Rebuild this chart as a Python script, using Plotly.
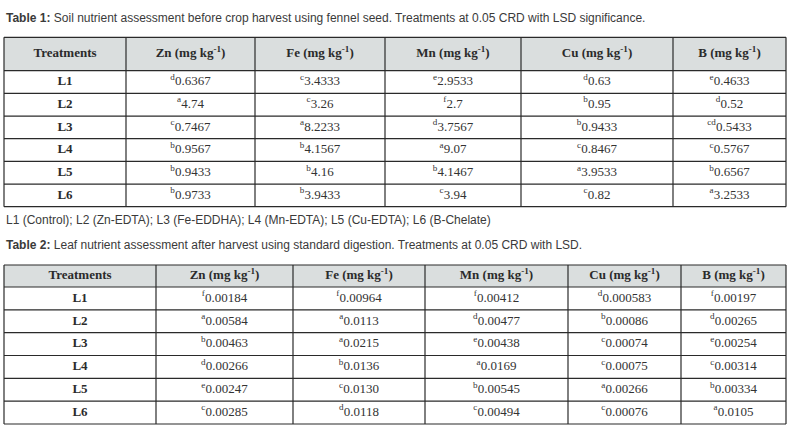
import plotly.graph_objects as go

W, H = 805, 428

treatments = ["L1", "L2", "L3", "L4", "L5", "L6"]
nutrients = ["Zn", "Fe", "Mn", "Cu", "B"]

# Table 1: soil nutrients (significance letter, value)
soil_zn = [("d", "0.6367"), ("a", "4.74"), ("c", "0.7467"), ("b", "0.9567"), ("b", "0.9433"), ("b", "0.9733")]
soil_fe = [("c", "3.4333"), ("c", "3.26"), ("a", "8.2233"), ("b", "4.1567"), ("b", "4.16"), ("b", "3.9433")]
soil_mn = [("e", "2.9533"), ("f", "2.7"), ("d", "3.7567"), ("a", "9.07"), ("b", "4.1467"), ("c", "3.94")]
soil_cu = [("d", "0.63"), ("b", "0.95"), ("b", "0.9433"), ("c", "0.8467"), ("a", "3.9533"), ("c", "0.82")]
soil_b = [("e", "0.4633"), ("d", "0.52"), ("cd", "0.5433"), ("c", "0.5767"), ("b", "0.6567"), ("a", "3.2533")]

# Table 2: leaf nutrients (significance letter, value)
leaf_zn = [("f", "0.00184"), ("a", "0.00584"), ("b", "0.00463"), ("d", "0.00266"), ("e", "0.00247"), ("c", "0.00285")]
leaf_fe = [("f", "0.00964"), ("a", "0.0113"), ("a", "0.0215"), ("b", "0.0136"), ("c", "0.0130"), ("d", "0.0118")]
leaf_mn = [("f", "0.00412"), ("d", "0.00477"), ("e", "0.00438"), ("a", "0.0169"), ("b", "0.00545"), ("c", "0.00494")]
leaf_cu = [("d", "0.000583"), ("b", "0.00086"), ("c", "0.00074"), ("c", "0.00075"), ("a", "0.00266"), ("c", "0.00076")]
leaf_b = [("f", "0.00197"), ("d", "0.00265"), ("e", "0.00254"), ("c", "0.00314"), ("b", "0.00334"), ("a", "0.0105")]

title1 = "Soil nutrient assessment before crop harvest using fennel seed. Treatments at 0.05 CRD with LSD significance."
title2 = "Leaf nutrient assessment after harvest using standard digestion. Treatments at 0.05 CRD with LSD."
footnote = "L1 (Control); L2 (Zn-EDTA); L3 (Fe-EDDHA); L4 (Mn-EDTA); L5 (Cu-EDTA); L6 (B-Chelate)"

header = ["Treatments"] + [f"{n} (mg kg<sup>-1</sup>)" for n in nutrients]

# ---- layout (pixel geometry on a page-sized axis) ----
TABLE1 = dict(cols=[4, 126, 255, 385, 521, 673, 786], top=37.3, head=33.4, row=22.67)
TABLE2 = dict(cols=[4, 156, 293, 425, 568, 681, 786], top=265, head=22, row=22.83)
SERIF = "Liberation Serif, DejaVu Serif, serif"
LINE_COLOR = "#2a2a2a"
HEAD_FILL = "#dadede"

fig = go.Figure()
shapes = []


def add_table(cols, geo):
    xs = geo["cols"]
    top, head, row = geo["top"], geo["head"], geo["row"]
    n = len(treatments)
    row_edges = [top, top + head] + [top + head + row * (i + 1) for i in range(n)]
    bottom = row_edges[-1]
    centers_x = [(xs[i] + xs[i + 1]) / 2 for i in range(len(xs) - 1)]
    head_y = top + head / 2
    rows_y = [top + head + row * (i + 0.5) for i in range(n)]

    shapes.append(dict(type="rect", xref="x", yref="y", x0=xs[0], x1=xs[-1], y0=top, y1=top + head,
                       fillcolor=HEAD_FILL, line=dict(width=0), layer="below"))
    for y in row_edges:
        shapes.append(dict(type="line", xref="x", yref="y", x0=xs[0], x1=xs[-1], y0=y, y1=y,
                           line=dict(color=LINE_COLOR, width=1.2)))
    for x in xs:
        shapes.append(dict(type="line", xref="x", yref="y", x0=x, x1=x, y0=top, y1=bottom,
                           line=dict(color=LINE_COLOR, width=1.2)))

    # header texts
    fig.add_trace(go.Scatter(x=centers_x, y=[head_y] * len(header), mode="text",
                             text=[f"<b>{h}</b>" for h in header], textposition="middle center",
                             textfont=dict(family=SERIF, size=13, color="#2b2b2b"),
                             hoverinfo="skip", showlegend=False))
    # treatment labels
    fig.add_trace(go.Scatter(x=[centers_x[0]] * n, y=rows_y, mode="text",
                             text=[f"<b>{t}</b>" for t in treatments], textposition="middle center",
                             textfont=dict(family=SERIF, size=13, color="#2b2b2b"),
                             hoverinfo="skip", showlegend=False))
    # values with significance letters
    for j, col in enumerate(cols):
        fig.add_trace(go.Scatter(x=[centers_x[j + 1]] * n, y=rows_y, mode="text",
                                 text=[f"<sup>{l}</sup>{v}" for l, v in col],
                                 textposition="middle center",
                                 textfont=dict(family=SERIF, size=13, color="#333333"),
                                 hoverinfo="skip", showlegend=False))


add_table([soil_zn, soil_fe, soil_mn, soil_cu, soil_b], TABLE1)
add_table([leaf_zn, leaf_fe, leaf_mn, leaf_cu, leaf_b], TABLE2)

TXT = dict(family="Liberation Sans", size=12, color="#3a3a3a")
annotations = []
for y, txt in [(18, f"<b>Table 1:</b> {title1}"), (220, footnote), (245, f"<b>Table 2:</b> {title2}")]:
    annotations.append(dict(x=4, y=y, xref="x", yref="y", text=txt, showarrow=False,
                            xanchor="left", yanchor="middle", font=TXT))

fig.update_layout(width=W, height=H, margin=dict(l=0, r=0, t=0, b=0),
                  paper_bgcolor="white", plot_bgcolor="white",
                  shapes=shapes, annotations=annotations,
                  xaxis=dict(range=[0, W], visible=False, fixedrange=True),
                  yaxis=dict(range=[H, 0], visible=False, fixedrange=True))
fig.write_html("out.html", config={"displayModeBar": False},
               post_script="document.body.style.margin='0';document.body.style.overflow='hidden';")
